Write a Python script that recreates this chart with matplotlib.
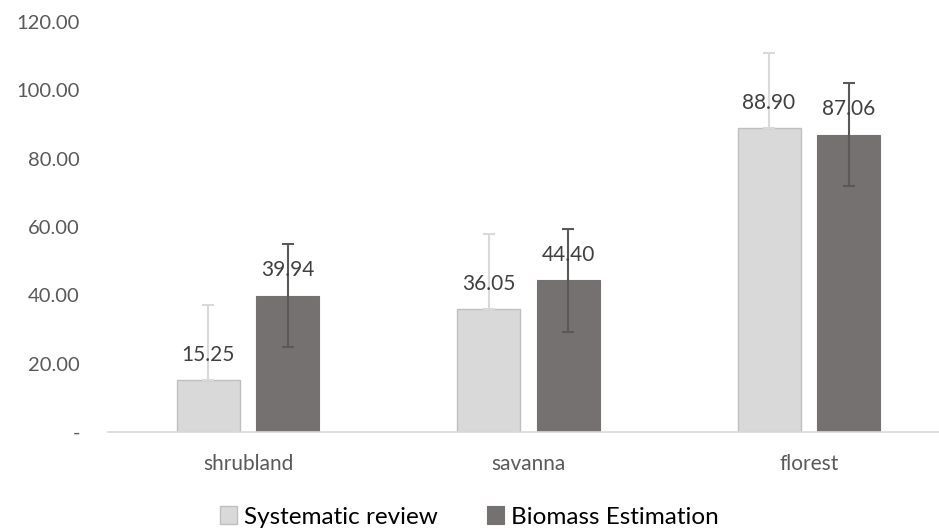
import matplotlib
matplotlib.use("Agg")
import matplotlib.pyplot as plt
import numpy as np

# Data
categories = ["shrubland", "savanna", "florest"]
systematic = [15.25, 36.05, 88.90]
biomass = [39.94, 44.40, 87.06]
systematic_err = [22.0, 22.0, 22.0]
biomass_err = [15.0, 15.0, 15.0]
y_ticks = [0, 20, 40, 60, 80, 100, 120]
y_labels = ["-", "20.00", "40.00", "60.00", "80.00", "100.00", "120.00"]

plt.rcParams["font.family"] = ["Lato", "DejaVu Sans"]

W, H = 939, 529
fig = plt.figure(figsize=(W / 100, H / 100), dpi=100)
# axes in pixel terms: left 107.75, baseline 432, top 22, width 841.5
ax = fig.add_axes([107.75 / W, (H - 432) / H, 841.5 / W, 410 / H])

x = np.arange(len(categories))
bw = 0.2246
off = 0.1426

light = "#d9d9d9"
dark = "#767171"

ax.bar(x - off, systematic, bw, color=light, edgecolor="#bfbfbf", linewidth=1.0,
       label="Systematic review", zorder=2)
ax.bar(x + off, biomass, bw, color=dark, edgecolor=dark, linewidth=0.8,
       label="Biomass Estimation", zorder=2)

ax.errorbar(x - off, systematic, yerr=[np.zeros(len(x)), systematic_err], fmt="none",
            ecolor=light, elinewidth=1.5, capsize=4.5, capthick=1.5, zorder=3)
ax.errorbar(x + off, biomass, yerr=biomass_err, fmt="none",
            ecolor="#595959", elinewidth=1.5, capsize=4.5, capthick=1.5, zorder=3)

for xi, v in zip(x - off, systematic):
    ax.annotate(f"{v:.2f}", (xi, v), xytext=(0, 11), textcoords="offset points",
                ha="center", va="bottom", fontsize=15, color="#404040", zorder=4)
for xi, v in zip(x + off, biomass):
    ax.annotate(f"{v:.2f}", (xi, v), xytext=(0, 11), textcoords="offset points",
                ha="center", va="bottom", fontsize=15, color="#404040", zorder=4)

ax.set_xlim(-0.5, 2.5)
ax.set_ylim(0, 120)
ax.set_yticks(y_ticks)
ax.set_yticklabels(y_labels)
ax.set_xticks(x)
ax.set_xticklabels(categories)
ax.tick_params(axis="y", length=0, pad=20, labelsize=14.5, labelcolor="#595959")
ax.tick_params(axis="x", length=0, pad=16, labelsize=15, labelcolor="#595959")

for s in ["top", "right", "left"]:
    ax.spines[s].set_visible(False)
ax.spines["bottom"].set_color("#d9d9d9")
ax.spines["bottom"].set_linewidth(1.2)

fig.legend(loc="center", bbox_to_anchor=(0.5, 1 - 517 / H), ncol=2, frameon=False,
           fontsize=17.5, handlelength=0.7, handleheight=0.7, handletextpad=0.3,
           columnspacing=2.0)

fig.savefig("out.png", dpi=100)
